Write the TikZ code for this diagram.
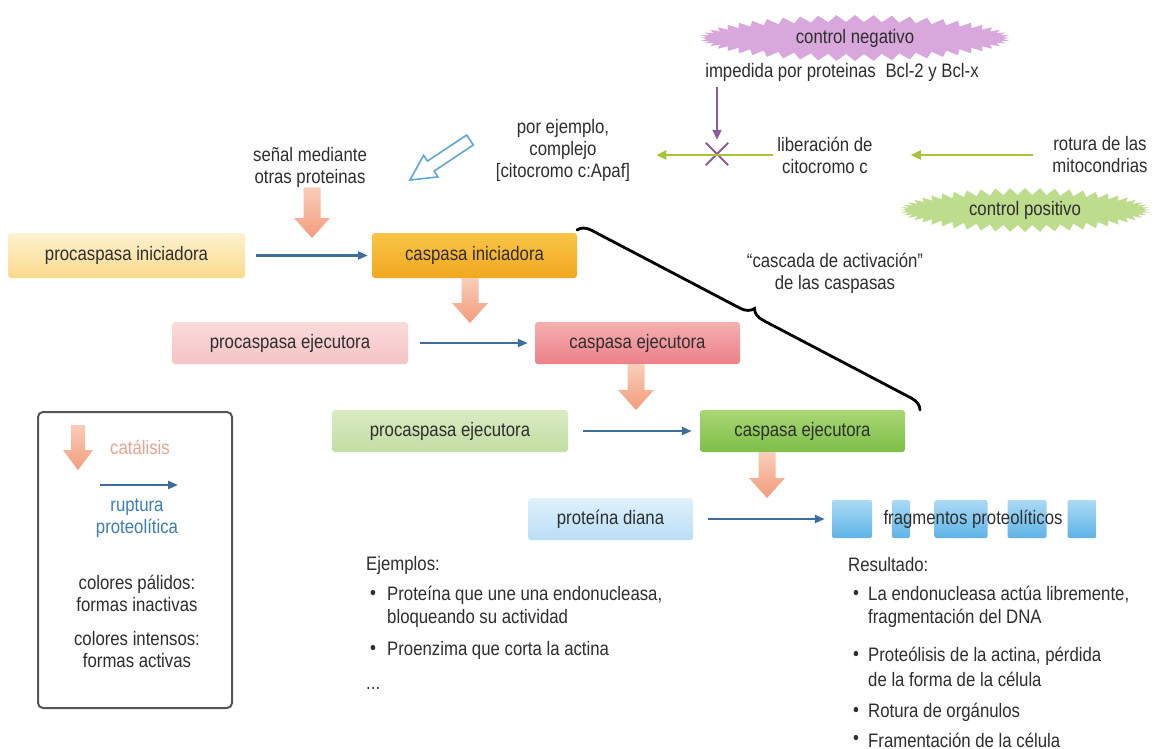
\documentclass[tikz,border=0pt]{standalone}
\usepackage{fontspec}
\setmainfont{Liberation Sans}[FakeStretch=0.86]
\usetikzlibrary{arrows.meta,shapes.symbols,decorations.pathreplacing,calc}
\definecolor{txt}{HTML}{2E2E2E}
\definecolor{piT}{HTML}{FEF2CF}\definecolor{piB}{HTML}{FAD98C}
\definecolor{ciT}{HTML}{FAC547}\definecolor{ciB}{HTML}{F2A71F}
\definecolor{peaT}{HTML}{FADADB}\definecolor{peaB}{HTML}{F5C3C5}
\definecolor{ceaT}{HTML}{F5AFB1}\definecolor{ceaB}{HTML}{EC8088}
\definecolor{pebT}{HTML}{D9EBC3}\definecolor{pebB}{HTML}{C2DEA3}
\definecolor{cebT}{HTML}{A9D675}\definecolor{cebB}{HTML}{7DBF47}
\definecolor{pdT}{HTML}{E1F1FC}\definecolor{pdB}{HTML}{B8DEF6}
\definecolor{frT}{HTML}{ABDAF5}\definecolor{frB}{HTML}{5EB3E6}
\definecolor{salT}{HTML}{F9CDB8}\definecolor{salB}{HTML}{F39C7C}
\definecolor{cattxt}{HTML}{E9A492}
\definecolor{bluetxt}{HTML}{3C7DB5}
\definecolor{blueln}{HTML}{3D6D9C}
\definecolor{greenln}{HTML}{A5C43A}
\definecolor{purpleln}{HTML}{8C5BA0}
\definecolor{negfill}{HTML}{D8A7DB}
\definecolor{posfill}{HTML}{BDDC8C}
\definecolor{hollow}{HTML}{5EA8D8}
\definecolor{legln}{HTML}{555555}
\newcommand\fatdown[4]{%
  \shade[top color=salT, bottom color=salB]
    ($(#1)+(-#3,0)$) -- ($(#2)+(-#3,-20)$) -- ($(#2)+(-#4,-20)$) -- (#2)
    -- ($(#2)+(#4,-20)$) -- ($(#2)+(#3,-20)$) -- ($(#1)+(#3,0)$) -- cycle;}
\begin{document}
\begin{tikzpicture}[x=1pt,y=-1pt,
  every node/.style={font=\fontsize{19.5}{22}\selectfont, text=txt, inner sep=0pt},
  box/.style={rectangle, rounded corners=3pt},
  lbl/.style={align=center},
  bluearr/.style={draw=blueln, line width=2.2pt, -{Triangle[length=10pt,width=8pt]}},
  greenarr/.style={draw=greenln, line width=2.2pt, -{Triangle[length=10pt,width=9pt]}},
  burst/.style={starburst, starburst points=52, starburst point height=7pt, random starburst=0}]
\fill[white] (0,0) rectangle (1154,749);
\useasboundingbox (0,0) rectangle (1154,749);

% control bursts
\node[burst, fill=negfill, minimum width=310pt, minimum height=46pt] (neg) at (855,38) {control negativo};
\node[burst, fill=posfill, minimum width=250pt, minimum height=44pt] (pos) at (1025,210) {control positivo};

% top texts
\node[lbl] (imp) at (842,72) {impedida por proteinas\hspace{5pt} Bcl-2 y Bcl-x};
\node[minimum size=22pt] (X) at (717,154) {};
\draw[purpleln, line width=2pt] (X.north west) -- (X.south east) (X.north east) -- (X.south west);
\draw[draw=purpleln, line width=2pt, -{Triangle[length=10pt,width=9pt]}, shorten <=6pt, shorten >=3pt] (imp.south -| X) -- (X.north);
\node[lbl] (lib) at (825,155) {liberación de\\citocromo c};
\node[lbl] (rot) at (1100,155) {rotura de las\\mitocondrias};
\node[lbl] (porej) at (563,150) {por ejemplo,\\complejo\\{[}citocromo c:Apaf{]}};
\draw[greenarr, shorten <=4pt, shorten >=26pt] (lib.west) -- (lib.west -| porej.east);
\draw[greenarr, shorten <=19pt, shorten >=38pt] (rot.west) -- (lib.east);

% hollow arrow
\draw[hollow, fill=white, line width=1.6pt, line join=miter]
  (466.7,135.0) -- (427.5,161.1) -- (423.6,155.3) -- (410,180) -- (438.0,176.9) -- (434.1,171.1) -- (473.3,145.0) -- cycle;

\node[lbl] (sen) at (310,167) {señal mediante\\otras proteinas};

% boxes
\node[box, minimum width=237pt, minimum height=45pt, top color=piT, bottom color=piB] (pi) at (126.5,255.5) {procaspasa iniciadora};
\node[box, minimum width=205pt, minimum height=45pt, top color=ciT, bottom color=ciB] (ci) at (474.5,255.5) {caspasa iniciadora};
\node[box, minimum width=236pt, minimum height=42pt, top color=peaT, bottom color=peaB] (pea) at (290,343) {procaspasa ejecutora};
\node[box, minimum width=205pt, minimum height=42pt, top color=ceaT, bottom color=ceaB] (cea) at (637.5,343) {caspasa ejecutora};
\node[box, minimum width=236pt, minimum height=42pt, top color=pebT, bottom color=pebB] (peb) at (450,431) {procaspasa ejecutora};
\node[box, minimum width=205pt, minimum height=42pt, top color=cebT, bottom color=cebB] (ceb) at (802.5,431) {caspasa ejecutora};
\node[box, minimum width=165pt, minimum height=42pt, top color=pdT, bottom color=pdB] (pd) at (610.5,519) {proteína diana};
\foreach \n/\cx/\w in {f1/852/40, f2/901/18, f3/961/53, f4/1027/39, f5/1082/29}
  \node[box, rounded corners=2pt, minimum width=\w pt, minimum height=38pt, top color=frT, bottom color=frB] (\n) at (\cx,519) {};
\node (frag) at (973,519) {fragmentos proteolíticos};

% proteolysis arrows
\draw[bluearr, shorten <=11pt, shorten >=4pt] (pi) -- (ci);
\draw[bluearr, shorten <=12pt, shorten >=7pt] (pea) -- (cea);
\draw[bluearr, shorten <=15pt, shorten >=8pt] (peb) -- (ceb);
\draw[bluearr, shorten <=15pt, shorten >=7pt] (pd) -- (f1);

% catalysis arrows
\coordinate (t0) at (312,238);
\coordinate (t1) at (470,323);
\coordinate (t2) at (636,410);
\coordinate (t3) at (767,498);
\fatdown{sen.south -| t0}{t0}{8.5}{18}
\fatdown{ci.south -| t1}{t1}{8.5}{18}
\fatdown{cea.south -| t2}{t2}{8.5}{18}
\fatdown{ceb.south -| t3}{t3}{8.5}{18}

% cascade brace
\coordinate (bs) at (577,230);
\coordinate (be) at (920,410);
\draw[line width=2.8pt, line cap=round, decorate, decoration={brace, amplitude=13pt}] (bs) -- (be);
\node[lbl] (casc) at (835,273) {“cascada de activación”\\de las caspasas};

% legend
\node[draw=legln, line width=2pt, rounded corners=5pt, minimum width=194pt, minimum height=296pt] (leg) at (135,560) {};
\coordinate (la) at (78,425);
\coordinate (lb) at (78,470);
\fatdown{la}{lb}{7}{15}
\node[text=cattxt] (cat) at (140,447) {catálisis};
\coordinate (lr1) at (100,485);
\coordinate (lr2) at (178,485);
\draw[bluearr] (lr1) -- (lr2);
\node[lbl, text=bluetxt] (rup) at (137,518) {ruptura\\proteolítica};
\node[lbl] (pal) at (137,593) {colores pálidos:\\formas inactivas};
\node[lbl] (int) at (137,650) {colores intensos:\\formas activas};

% examples
\node[anchor=west] (ej) at (366,565) {Ejemplos:};
\node[anchor=west] (b1) at (370,595) {•};
\node[anchor=west] (e1) at (387,595) {Proteína que une una endonucleasa,};
\node[anchor=west] (e1b) at (387,618) {bloqueando su actividad};
\node[anchor=west] (b2) at (370,650) {•};
\node[anchor=west] (e2) at (387,650) {Proenzima que corta la actina};
\node[anchor=west] (dots) at (366,688) {...};

% results
\node[anchor=west] (res) at (848,565) {Resultado:};
\node[anchor=west] (r1b) at (853,595) {•};
\node[anchor=west] (r1) at (868,595) {La endonucleasa actúa libremente,};
\node[anchor=west] (r1c) at (868,618) {fragmentación del DNA};
\node[anchor=west] (r2b) at (853,656) {•};
\node[anchor=west] (r2) at (868,656) {Proteólisis de la actina, pérdida};
\node[anchor=west] (r2c) at (868,679) {de la forma de la célula};
\node[anchor=west] (r3b) at (853,712) {•};
\node[anchor=west] (r3) at (868,712) {Rotura de orgánulos};
\node[anchor=west] (r4b) at (853,740) {•};
\node[anchor=west] (r4) at (868,740) {Framentación de la célula};
\end{tikzpicture}
\end{document}
